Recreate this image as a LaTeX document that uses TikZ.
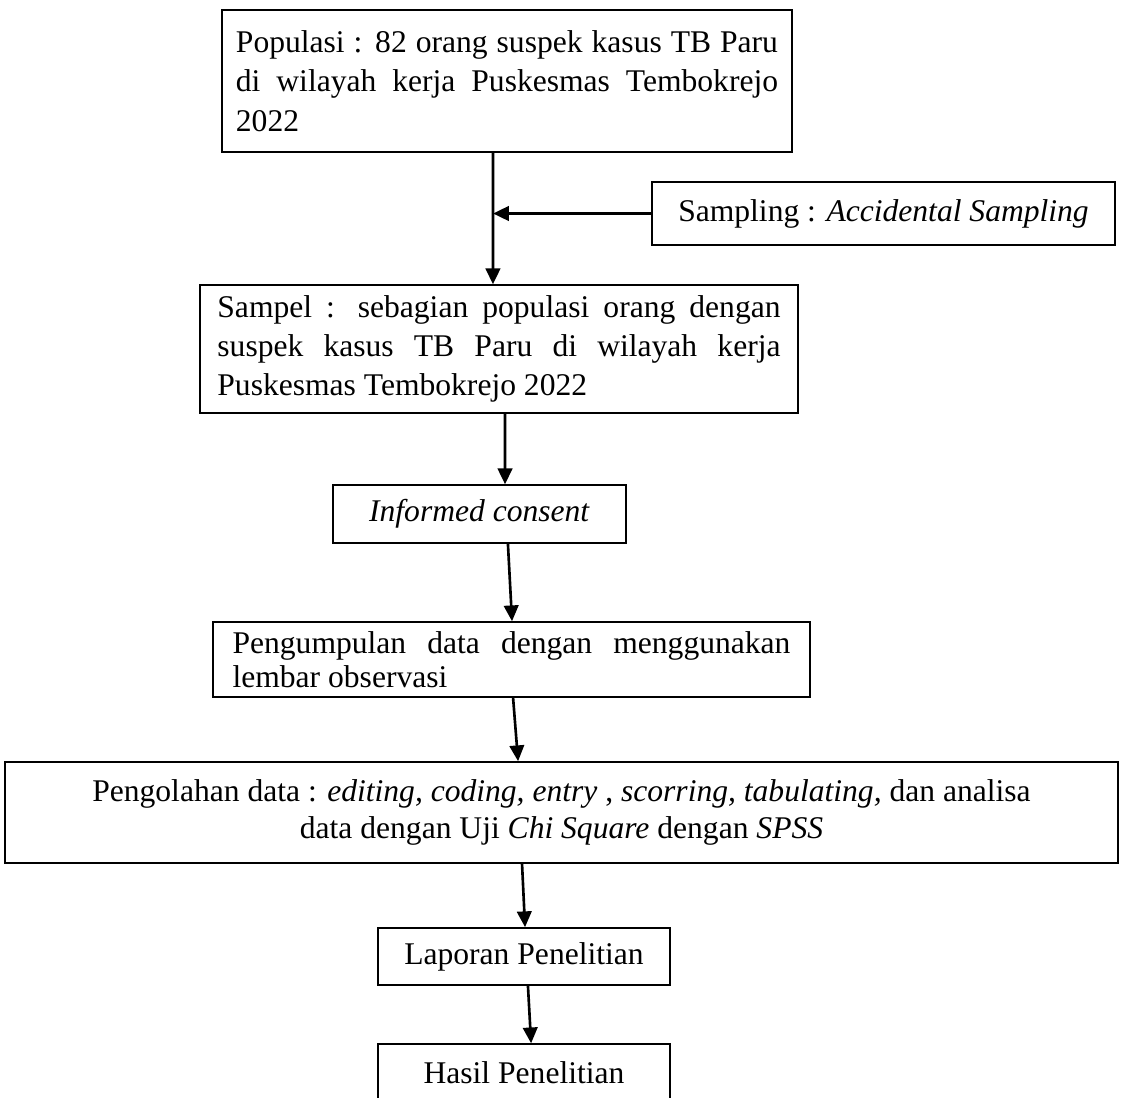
\documentclass[tikz,border=0pt]{standalone}
\usepackage{fontspec}
\setmainfont{Liberation Serif}
\usetikzlibrary{positioning,arrows.meta,calc}
\tikzset{
    x=0.38pt,
    y=-0.38pt,
    box/.style = {
        draw,
        shape=rectangle,
        line width=0.6pt,
        inner sep=0pt,
        font=\fontsize{12}{15}\selectfont
    },
    textbox/.style = {
        box,
        align=justify
    },
    flow/.style = {
        draw,
        ->,
        line width=1pt
    },
    >={Triangle[length=6pt,width=5.5pt]},
}

\begin{document}
\begin{tikzpicture}
            \useasboundingbox (0,0) rectangle (1130,1097);

            \node[textbox, text width=206pt, minimum width=216.6pt, minimum height=54pt] (pop) at (507,81) {Populasi : 82 orang suspek kasus TB Paru\linebreak di wilayah kerja Puskesmas Tembokrejo\linebreak 2022};
            \node[box, minimum width=176pt, minimum height=24pt] (sampling) at (883.5,213.5) {Sampling : \textit{Accidental Sampling}};
            \node[textbox, text width=214pt, minimum width=227.2pt, minimum height=48.6pt, font=\fontsize{12}{14.8}\selectfont] (sampel) at (499,349) {Sampel : sebagian populasi orang dengan\linebreak suspek kasus TB Paru di wilayah kerja\linebreak Puskesmas Tembokrejo 2022};
            \node[box, minimum width=111.3pt, minimum height=22pt] (consent) at (479.5,514) {\textit{Informed consent}};
            \node[textbox, text width=212pt, minimum width=226.9pt, minimum height=28.5pt, font=\fontsize{12}{13}\selectfont] (pengumpulan) at (511.5,659.5) {Pengumpulan data dengan menggunakan\linebreak lembar observasi};
            \node[box, align=center, minimum width=423pt, minimum height=38.4pt, font=\fontsize{12}{14}\selectfont] (pengolahan) at (561.5,812.5) {Pengolahan data : \textit{editing, coding, entry} , \textit{scorring, tabulating,} dan analisa\\data dengan Uji \textit{Chi Square} dengan \textit{SPSS}};
            \node[box, minimum width=111pt, minimum height=21.7pt] (laporan) at (524,956.5) {Laporan Penelitian};
            \node[box, minimum width=111pt, minimum height=22pt] (hasil) at (524,1073) {Hasil Penelitian};

            \coordinate (join) at ([xshift=-5.3pt]pop.south);

            \path[flow] (join) -- ([xshift=-2.3pt]sampel.north);
            \path[flow] (sampling.west) -- (sampling.west -| join);
            \path[flow] ([xshift=2.3pt]sampel.south) -- ([xshift=9.7pt]consent.north);
            \path[flow] ([xshift=10.8pt]consent.south) -- ([xshift=0.2pt]pengumpulan.north);
            \path[flow] ([xshift=0.6pt]pengumpulan.south) -- ([xshift=-16.5pt]pengolahan.north);
            \path[flow] ([xshift=-15pt]pengolahan.south) -- ([xshift=0.4pt]laporan.north);
            \path[flow] ([xshift=1.5pt]laporan.south) -- ([xshift=2.7pt]hasil.north);

        \end{tikzpicture}
\end{document}
